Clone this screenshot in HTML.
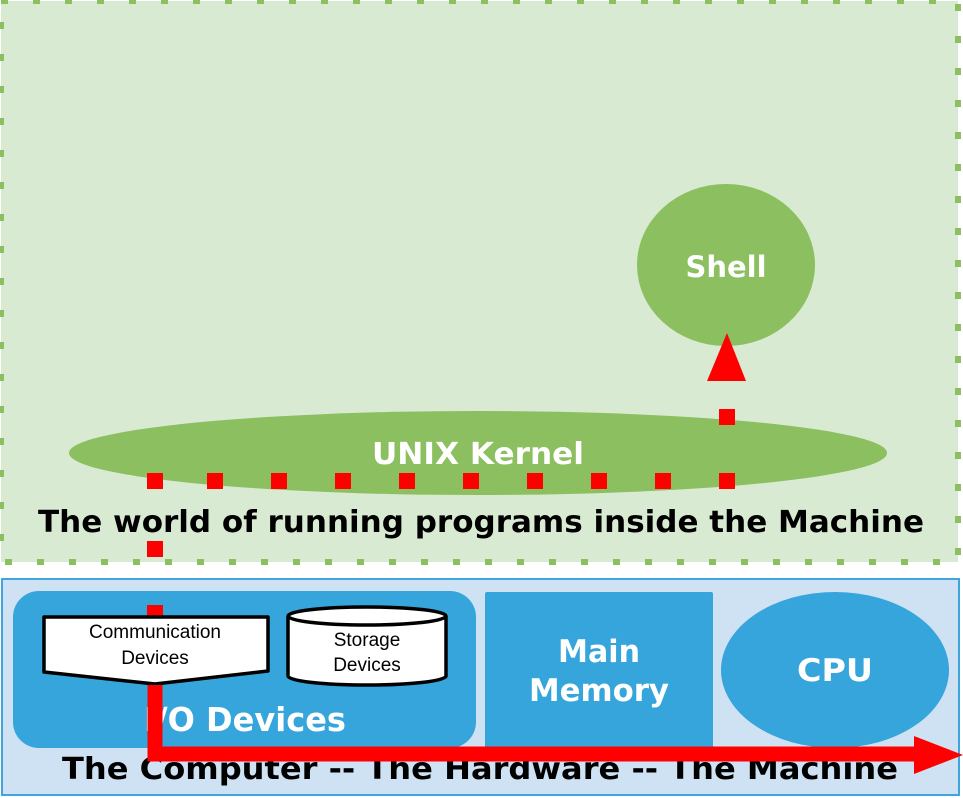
<!DOCTYPE html>
<html><head><meta charset="utf-8"><style>
html,body{margin:0;padding:0;background:#fff;}
svg{display:block;}
text{font-family:"DejaVu Sans","Liberation Sans",sans-serif;}
</style></head><body>
<svg width="963" height="798" viewBox="0 0 963 798" xmlns="http://www.w3.org/2000/svg">
<rect x="0" y="0" width="963" height="798" fill="#fff"/>
<rect x="1" y="1" width="957" height="561" fill="#d9ead3" stroke="#8bbf5f" stroke-width="6" stroke-dasharray="7 25"/>
<ellipse cx="726" cy="265" rx="89" ry="81" fill="#8bbf5f"/>
<text x="726" y="277" font-size="29" fill="#fff" text-anchor="middle" font-weight="bold">Shell</text>
<ellipse cx="478" cy="453" rx="409" ry="42" fill="#8bbf5f"/>
<text x="478" y="464" font-size="30" fill="#fff" text-anchor="middle" font-weight="bold" textLength="212" lengthAdjust="spacingAndGlyphs">UNIX Kernel</text>
<text x="481" y="532" font-size="30" fill="#000" text-anchor="middle" font-weight="bold" textLength="886" lengthAdjust="spacingAndGlyphs">The world of running programs inside the Machine</text>
<g fill="#f00">
<rect x="147" y="473" width="16" height="16"/>
<rect x="207" y="473" width="16" height="16"/>
<rect x="271" y="473" width="16" height="16"/>
<rect x="335" y="473" width="16" height="16"/>
<rect x="399" y="473" width="16" height="16"/>
<rect x="463" y="473" width="16" height="16"/>
<rect x="527" y="473" width="16" height="16"/>
<rect x="591" y="473" width="16" height="16"/>
<rect x="655" y="473" width="16" height="16"/>
<rect x="719" y="473" width="16" height="16"/>
<rect x="719" y="409" width="16" height="16"/>
<rect x="147" y="541" width="16" height="16"/>
<polygon points="727,333 707,381 746,381"/>
</g>
<rect x="2" y="579" width="957" height="216" fill="#cfe2f3" stroke="#3ea6dc" stroke-width="2"/>
<rect x="13" y="591" width="463" height="157" rx="26" fill="#35a5dc"/>
<rect x="485" y="592" width="228" height="157" rx="2" fill="#35a5dc"/>
<ellipse cx="835" cy="670" rx="114" ry="78" fill="#35a5dc"/>
<text x="599" y="662" font-size="31" fill="#fff" text-anchor="middle" font-weight="bold" textLength="82" lengthAdjust="spacingAndGlyphs">Main</text>
<text x="599" y="701" font-size="31" fill="#fff" text-anchor="middle" font-weight="bold" textLength="140" lengthAdjust="spacingAndGlyphs">Memory</text>
<text x="835" y="681" font-size="31" fill="#fff" text-anchor="middle" font-weight="bold" textLength="76" lengthAdjust="spacingAndGlyphs">CPU</text>
<text x="245" y="731" font-size="33" fill="#fff" text-anchor="middle" font-weight="bold" textLength="202" lengthAdjust="spacingAndGlyphs">I/O Devices</text>
<rect x="147" y="605" width="16" height="12" fill="#f00"/>
<polygon points="44,617 268,617 268,671 155,684 44,672" fill="#fff" stroke="#000" stroke-width="3.5" stroke-linejoin="round"/>
<text x="155" y="638" font-size="19" text-anchor="middle" style="font-family:'Liberation Sans',sans-serif">Communication</text>
<text x="155" y="664" font-size="19" text-anchor="middle" style="font-family:'Liberation Sans',sans-serif">Devices</text>
<path d="M288,616 L288,676 A79,9 0 0 0 446,676 L446,616" fill="#fff" stroke="#000" stroke-width="3.5"/>
<ellipse cx="367" cy="616" rx="79" ry="9" fill="#fff" stroke="#000" stroke-width="3.5"/>
<text x="367" y="646" font-size="19" text-anchor="middle" style="font-family:'Liberation Sans',sans-serif">Storage</text>
<text x="367" y="671" font-size="19" text-anchor="middle" style="font-family:'Liberation Sans',sans-serif">Devices</text>
<text x="480" y="779" font-size="30" fill="#000" text-anchor="middle" font-weight="bold" textLength="836" lengthAdjust="spacingAndGlyphs">The Computer -- The Hardware -- The Machine</text>
<path d="M155,685 L155,754 L916,754" fill="none" stroke="#f00" stroke-width="15"/>
<polygon points="914,736 963,755 914,774" fill="#f00"/>
</svg>
</body></html>
